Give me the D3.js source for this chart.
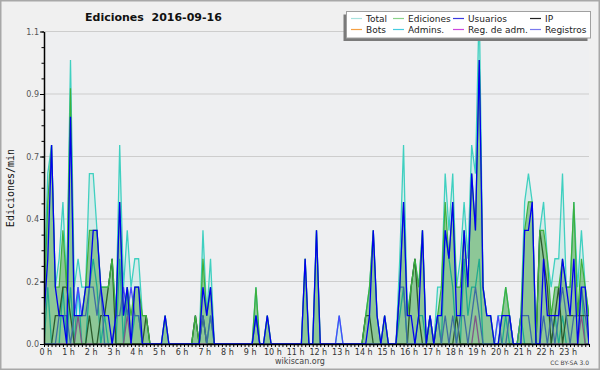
<!DOCTYPE html>
<html>
<head>
<meta charset="utf-8">
<title>Ediciones 2016-09-16</title>
<script src="https://cdn.jsdelivr.net/npm/d3@7"></script>
<style>body{margin:0;background:#fff}</style>
</head>
<body>
<svg width="600" height="370" id="mainsvg"></svg>
<script>
// ediciones/min, one value every 10 minutes (6 per hour, last one = 24:00)
const total = [
  0.2,0.6,0.7,0.2,0.3,0.5,  0.2,1.0,0.2,0.3,0.2,0.2,  0.6,0.6,0.4,0.2,0.2,0.2,
  0.3,0.1,0.7,0.2,0.4,0.2,  0.3,0.3,0.1,0.1,0,0,      0,0,0.1,0,0,0,
  0,0,0,0,0.1,0,            0.4,0.1,0.3,0,0,0,        0,0,0,0,0,0,
  0,0,0.2,0,0,0.1,          0,0,0,0,0,0,              0,0,0,0.3,0,0,
  0.4,0,0,0,0,0,            0.1,0,0,0,0,0,            0,0.1,0.2,0.4,0.1,0,
  0.1,0,0,0,0.3,0.7,        0.1,0.2,0.3,0.2,0.4,0,    0.1,0,0.2,0.2,0.6,0.4,
  0.6,0.2,0.3,0.5,0.3,0.7,  0.6,1.2,0.2,0.1,0.1,0,    0.1,0.1,0.2,0.1,0,0,
  0.1,0.5,0.6,0.5,0,0.4,    0.5,0.3,0.2,0.3,0.3,0.6,  0.2,0.2,0.5,0.2,0.4,0.2,
  0.1];
const edits = [
  0.1,0.5,0.7,0.2,0.2,0.4,  0.2,0.9,0.1,0.1,0.1,0.2,  0.4,0.4,0.4,0.2,0.2,0.2,
  0.3,0.1,0.5,0.1,0.2,0.1,  0.2,0.2,0.1,0.1,0,0,      0,0,0.1,0,0,0,
  0,0,0,0,0.1,0,            0.3,0.1,0.2,0,0,0,        0,0,0,0,0,0,
  0,0,0.2,0,0,0.1,          0,0,0,0,0,0,              0,0,0,0.3,0,0,
  0.4,0,0,0,0,0,            0,0,0,0,0,0,              0,0.1,0.2,0.4,0.1,0,
  0.1,0,0,0,0.2,0.5,        0.1,0.2,0.3,0.2,0.4,0,    0.1,0,0.1,0.2,0.5,0.3,
  0.5,0.2,0.2,0.4,0.2,0.6,  0.4,1.0,0.2,0.1,0.1,0,    0,0.1,0.2,0.1,0,0,
  0.1,0.4,0.5,0.5,0,0.4,    0.4,0.3,0.1,0.2,0.2,0.3,  0.2,0.2,0.5,0.1,0.3,0.2,
  0.1];
const users = [
  0.1,0.3,0.7,0.2,0.1,0.1,  0,0.8,0.1,0.1,0.1,0.2,    0.2,0.4,0.4,0.2,0.1,0.1,
  0,0.1,0.5,0.1,0.2,0,      0.2,0.2,0,0,0,0,          0,0,0.1,0,0,0,
  0,0,0,0,0,0,              0.2,0.1,0.2,0,0,0,        0,0,0,0,0,0,
  0,0,0.1,0,0,0.1,          0,0,0,0,0,0,              0,0,0,0.3,0,0,
  0.4,0,0,0,0,0,            0,0,0,0,0,0,              0,0,0.1,0.4,0.1,0,
  0.1,0,0,0,0.2,0.5,        0.1,0.1,0,0.1,0.4,0,      0.1,0,0.1,0.1,0.4,0.3,
  0.5,0.1,0.1,0.4,0.2,0.6,  0.4,1.0,0.2,0.1,0.1,0,    0,0.1,0.1,0.1,0,0,
  0,0.4,0.4,0.5,0,0,        0.3,0.1,0.1,0.1,0.1,0.3,  0.2,0.1,0.3,0,0.2,0.2,
  0];
const ip = [
  0,0,0,0.1,0.1,0.2,        0.2,0.1,0,0,0,0,          0.1,0,0,0.1,0.1,0.2,
  0.3,0,0,0,0,0,            0,0,0,0.1,0,0,            0,0,0,0,0,0,
  0,0,0,0,0.1,0,            0.1,0,0,0,0,0,            0,0,0,0,0,0,
  0,0,0,0,0,0,              0,0,0,0,0,0,              0,0,0,0,0,0,
  0,0,0,0,0,0,              0,0,0,0,0,0,              0,0.1,0.1,0,0,0,
  0,0,0,0,0,0,              0,0.2,0.3,0.1,0,0,        0,0,0,0,0,0,
  0,0.1,0,0,0,0,            0,0,0,0,0,0,              0,0,0,0,0,0,
  0,0,0,0,0,0.4,            0.3,0.2,0,0.1,0.2,0,      0.1,0.1,0.1,0.1,0.1,0.1,
  0.1];
const logs = [
  0,0,0,0,0.1,0.1,          0.1,0,0.1,0.2,0.1,0.1,    0.2,0.2,0.1,0.2,0,0,
  0,0.1,0.1,0.2,0.1,0.2,    0.1,0.1,0,0,0,0,          0,0,0,0,0,0,
  0,0,0,0,0,0,              0.1,0,0.1,0,0,0,          0,0,0,0,0,0,
  0,0,0.1,0,0,0,            0,0,0,0,0,0,              0,0,0,0,0,0,
  0,0,0,0,0,0,              0.1,0,0,0,0,0,            0,0,0,0,0,0,
  0,0,0,0,0.2,0.2,          0,0,0,0,0,0,              0.1,0,0.1,0,0.1,0,
  0.1,0,0.1,0.1,0,0.1,      0.2,0.1,0,0,0,0,          0.1,0,0,0.1,0,0,
  0.1,0.1,0.1,0,0,0,        0.1,0,0.1,0,0.1,0.2,      0.1,0,0.1,0.1,0.2,0.1,
  0];
const admins = [
  0,0.2,0,0,0,0.2,          0,0.2,0,0.2,0,0,          0.2,0.3,0.2,0,0.1,0,
  0,0,0.3,0,0.2,0,          0.1,0.1,0,0,0,0,          0,0,0,0,0,0,
  0,0,0,0,0,0,              0.1,0,0.1,0,0,0,          0,0,0,0,0,0,
  0,0,0.1,0,0,0,            0,0,0,0,0,0,              0,0,0,0,0,0,
  0,0,0,0,0,0,              0,0,0,0,0,0,              0,0,0,0,0,0,
  0,0,0,0,0.1,0.2,          0,0,0,0.1,0.1,0,          0,0,0.1,0,0.4,0.3,
  0.2,0,0,0.3,0.1,0.2,      0.2,0.3,0,0,0,0,          0,0,0.1,0,0,0,
  0.1,0,0,0,0,0,            0,0,0,0.1,0,0.1,          0,0,0,0,0.2,0,
  0];
const regadm = [
  0,0,0,0,0,0,  0,0,0,0.1,0,0,  0,0,0,0,0,0,  0,0,0,0,0.1,0,  0,0,0,0,0,0,  0,0,0,0,0,0,
  0,0,0,0,0,0,  0,0,0,0,0,0,    0,0,0,0,0,0,  0,0,0,0,0,0,    0,0,0,0,0,0,  0,0,0,0,0,0,
  0,0,0,0,0,0,  0,0,0,0,0,0,    0,0,0,0,0,0,  0,0,0,0,0,0,    0,0,0,0,0,0,  0,0,0,0,0,0,
  0,0,0,0,0,0,  0.1,0,0,0,0,0,  0,0,0,0,0,0,  0,0,0,0,0,0,    0,0,0,0,0,0,  0,0,0,0,0.1,0,
  0];

const yTicks = [0, 0.22, 0.44, 0.66, 0.88, 1.1];
const yLabels = ['0.0', '0.2', '0.4', '0.7', '0.9', '1.1'];
const hourLabels = d3.range(24).map(h => h + ' h');

const legendNames = ['Total', 'Ediciones', 'Usuarios', 'IP', 'Bots', 'Admins.', 'Reg. de adm.', 'Registros'];
const legendColors = ['#a8e2de', '#8ad28a', '#3a3ae0', '#222222', '#f5a043', '#45cce0', '#cc48dd', '#7a7aee'];

const svg = d3.select('#mainsvg');
const margin = {top: 31.5, left: 44, right: 11, bottom: 26};
const W = 600, H = 370;

// background + frame
svg.append('rect').attr('x', 0.75).attr('y', 0.75).attr('width', W - 1.5).attr('height', H - 1.5)
  .attr('fill', '#f0f0f0').attr('stroke', '#a8a8a8').attr('stroke-width', 1.5);

const x = d3.scaleLinear().domain([0, 144]).range([margin.left, W - margin.right]);
const y = d3.scaleLinear().domain([0, 1.1]).range([H - margin.bottom, margin.top]);

svg.append('rect').attr('x', x(0)).attr('y', y(1.1)).attr('width', x(144) - x(0)).attr('height', y(0) - y(1.1))
  .attr('fill', '#eeeff1');

// grid
svg.append('g').selectAll('line').data(yTicks.slice(1)).join('line')
  .attr('x1', x(0)).attr('x2', x(144)).attr('y1', d => y(d)).attr('y2', d => y(d))
  .attr('stroke', '#cdcdcd').attr('stroke-width', 1);

svg.append('clipPath').attr('id', 'plotclip').append('rect')
  .attr('x', x(0)).attr('y', y(1.1)).attr('width', x(144) - x(0)).attr('height', y(0) - y(1.1));

const g = svg.append('g').attr('clip-path', 'url(#plotclip)');
const area = d3.area().x((d, i) => x(i)).y0(y(0)).y1(d => y(d));
const line = d3.line().x((d, i) => x(i)).y(d => y(d));

g.append('path').attr('d', area(total)).attr('fill', 'rgba(60,205,190,0.13)');
g.append('path').attr('d', line(total)).attr('fill', 'none').attr('stroke', '#3fd0c0').attr('stroke-width', 1.3);

const under = [[admins, '#12b8d8'], [regadm, '#c020d0'], [ip, '#262626'], [logs, '#4848ff']];
under.forEach(([s, c]) => {
  g.append('path').attr('d', line(s)).attr('fill', 'none').attr('stroke', c).attr('stroke-width', 1.3);
});

g.append('path').attr('d', area(edits)).attr('fill', 'rgba(50,155,50,0.45)');
g.append('path').attr('d', line(edits)).attr('fill', 'none').attr('stroke', '#3db03d').attr('stroke-width', 1.2);
g.append('path').attr('d', line(users)).attr('fill', 'none').attr('stroke', '#0000f0').attr('stroke-width', 1.3);

// axes
const yMinor = d3.axisLeft(y).tickValues(d3.range(0, 1.1001, 0.055)).tickSize(2.5).tickFormat('').tickSizeOuter(0);
svg.append('g').attr('transform', `translate(${x(0)},0)`).call(yMinor)
  .call(a => a.select('.domain').remove());
const yAxis = d3.axisLeft(y).tickValues(yTicks).tickSize(4).tickPadding(1).tickSizeOuter(0)
  .tickFormat((d, i) => yLabels[i]);
svg.append('g').attr('transform', `translate(${x(0)},0)`).call(yAxis)
  .call(a => a.select('.domain').attr('stroke-width', 1.5))
  .call(a => a.selectAll('text').attr('fill', '#555').attr('font-size', '8px').attr('font-family', 'DejaVu Sans'));

const xAxis = d3.axisBottom(x).tickValues(d3.range(0, 145)).tickSize(3).tickFormat('').tickSizeOuter(0);
svg.append('g').attr('transform', `translate(0,${y(0)})`).call(xAxis)
  .call(a => a.select('.domain').attr('stroke-width', 1.5));
svg.append('g').selectAll('text').data(hourLabels).join('text')
  .attr('x', (d, i) => x(i * 6) + 1.8).attr('y', y(0) + 10.5)
  .attr('text-anchor', 'middle').attr('font-size', '8px').attr('font-family', 'DejaVu Sans').attr('fill', '#333')
  .text(d => d);

// texts
svg.append('text').attr('x', 85).attr('y', 21).attr('font-family', 'DejaVu Sans').attr('font-weight', 'bold')
  .attr('font-size', '11px').attr('fill', '#111').style('white-space', 'pre').text('Ediciones  2016-09-16');
svg.append('text').attr('transform', 'translate(13.5,188) rotate(-90)').attr('text-anchor', 'middle')
  .attr('font-family', 'DejaVu Sans Mono').attr('font-size', '10px').attr('fill', '#111').text('Ediciones/min');
svg.append('text').attr('x', 300).attr('y', 364).attr('text-anchor', 'middle').attr('font-family', 'DejaVu Sans')
  .attr('font-size', '8px').attr('fill', '#444').text('wikiscan.org');
svg.append('text').attr('x', 589).attr('y', 365).attr('text-anchor', 'end').attr('font-family', 'DejaVu Sans')
  .attr('font-size', '6px').attr('fill', '#444').text('CC BY-SA 3.0');

// legend
const lg = svg.append('g');
lg.append('rect').attr('x', 343.5).attr('y', 14.5).attr('width', 244).attr('height', 26.5).attr('fill', '#7a7a7a');
lg.append('rect').attr('x', 346.5).attr('y', 11.5).attr('width', 244).attr('height', 26.5)
  .attr('fill', '#fff').attr('stroke', '#a0a0a0').attr('stroke-width', 1);
const colX = [351, 393, 453, 530];
const rowY = [18.5, 29.5];
legendNames.forEach((name, i) => {
  const cx = colX[i % 4], cy = rowY[Math.floor(i / 4)];
  lg.append('line').attr('x1', cx).attr('x2', cx + 11).attr('y1', cy).attr('y2', cy)
    .attr('stroke', legendColors[i]).attr('stroke-width', 1.2);
  lg.append('text').attr('x', cx + 15).attr('y', cy + 3.5).attr('font-family', 'DejaVu Sans')
    .attr('font-size', '9px').attr('fill', '#222').text(name);
});
</script>
</body>
</html>
